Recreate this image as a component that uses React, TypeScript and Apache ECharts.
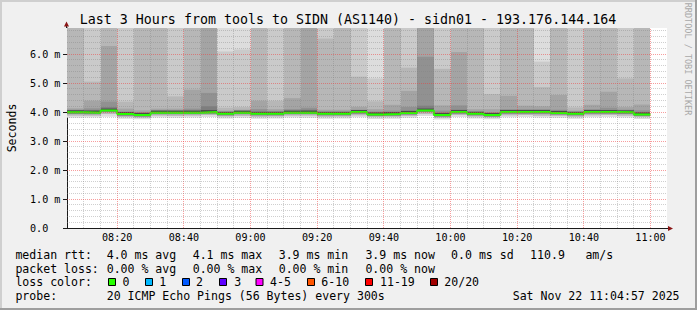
import React, { useEffect, useRef } from 'react';
import * as echarts from 'echarts';

// 5-minute slots (start time of each smoke column)
const slots = [
  '08:05', '08:10', '08:15', '08:20', '08:25', '08:30', '08:35', '08:40', '08:45', '08:50',
  '08:55', '09:00', '09:05', '09:10', '09:15', '09:20', '09:25', '09:30', '09:35', '09:40',
  '09:45', '09:50', '09:55', '10:00', '10:05', '10:10', '10:15', '10:20', '10:25', '10:30',
  '10:35', '10:40', '10:45', '10:50', '10:55',
];
const slotEnd = '11:00';

// median RTT (ms)
const median = [3.99, 3.98, 4.05, 3.93, 3.90, 3.98, 3.98, 3.98, 4.00, 3.94, 3.98, 3.94, 3.94, 3.98, 3.98, 3.94, 3.94, 4.00, 3.92, 3.93, 3.97, 4.05, 3.90, 4.00, 3.94, 3.90, 4.00, 4.00, 4.00, 3.97, 3.94, 4.00, 4.00, 3.99, 3.92];
// smoke: sorted ping values (ms)
const pMin = [3.80, 3.81, 3.84, 3.77, 3.75, 3.81, 3.80, 3.81, 3.83, 3.78, 3.80, 3.77, 3.78, 3.81, 3.80, 3.77, 3.78, 3.82, 3.76, 3.77, 3.80, 3.86, 3.74, 3.83, 3.78, 3.75, 3.82, 3.83, 3.81, 3.80, 3.77, 3.82, 3.83, 3.81, 3.76];
const pLow = [3.88, 3.88, 3.93, 3.83, 3.81, 3.88, 3.87, 3.88, 3.90, 3.85, 3.87, 3.84, 3.85, 3.88, 3.88, 3.84, 3.85, 3.89, 3.83, 3.84, 3.87, 3.93, 3.81, 3.90, 3.85, 3.82, 3.89, 3.90, 3.88, 3.87, 3.84, 3.89, 3.90, 3.88, 3.83];
const p15 = [4.06, 4.06, 4.17, 3.98, 3.96, 4.04, 4.03, 4.05, 4.20, 3.98, 4.01, 4.00, 3.99, 4.04, 4.08, 3.98, 3.98, 4.05, 3.98, 3.99, 4.04, 4.22, 3.97, 4.08, 3.98, 3.95, 4.05, 4.05, 4.06, 4.03, 3.97, 4.05, 4.06, 4.04, 3.98];
const p16 = [4.08, 4.13, 4.36, 4.02, 4.00, 4.06, 4.06, 4.12, 4.66, 4.00, 4.03, 4.10, 4.02, 4.10, 4.15, 4.00, 4.00, 4.08, 4.02, 4.05, 4.18, 5.91, 4.05, 4.23, 4.02, 3.99, 4.10, 4.10, 4.10, 4.08, 4.00, 4.10, 4.15, 4.08, 4.06];
const p17 = [4.13, 4.39, 6.28, 4.12, 4.06, 4.12, 4.12, 4.77, 7.10, 4.05, 4.08, 4.39, 4.10, 4.48, 7.20, 4.08, 4.08, 4.18, 4.10, 4.25, 4.73, 7.10, 4.23, 6.07, 4.10, 4.10, 4.56, 4.22, 4.20, 4.59, 4.05, 4.25, 4.70, 4.17, 4.26];
const p18 = [7.20, 5.05, 7.20, 4.36, 7.00, 7.10, 4.54, 7.10, 7.60, 4.15, 4.17, 7.00, 4.39, 7.05, 7.80, 6.54, 7.00, 5.22, 4.37, 7.00, 5.53, 7.70, 5.49, 7.10, 7.00, 4.62, 7.00, 7.00, 4.86, 7.00, 4.16, 7.00, 7.10, 5.16, 7.00];
const p19 = [7.80, 7.30, 7.90, 7.10, 7.50, 7.60, 7.20, 7.70, 8.20, 6.09, 6.16, 7.50, 7.10, 7.60, 8.60, 7.20, 7.60, 7.05, 5.16, 7.40, 7.10, 8.50, 7.20, 7.80, 7.40, 7.05, 7.50, 7.50, 5.74, 7.40, 7.05, 7.40, 7.60, 7.10, 7.40];
const pMax = [8.50, 8.00, 9.00, 7.60, 8.00, 8.30, 7.80, 8.40, 9.00, 7.40, 7.20, 8.10, 7.70, 8.20, 9.50, 7.90, 8.30, 7.70, 7.30, 8.00, 7.60, 9.20, 7.90, 8.60, 8.00, 7.50, 8.10, 8.20, 7.20, 8.00, 7.60, 8.10, 8.30, 7.70, 8.00];

const xTickLabels = ['08:20', '08:40', '09:00', '09:20', '09:40', '10:00', '10:20', '10:40', '11:00'];
const yTickValues = [0, 1, 2, 3, 4, 5, 6];
const graphStart = '08:04:57';
const graphEnd = '11:04:57';
const yMax = 6.9;

const legendRow1 = ['median rtt:', '4.0 ms avg', '4.1 ms max', '3.9 ms min', '3.9 ms now', '0.0 ms sd', '110.9', 'am/s'];
const legendRow2 = ['packet loss:', '0.00 % avg', '0.00 % max', '0.00 % min', '0.00 % now'];
const lossLabels = ['0', '1', '2', '3', '4-5', '6-10', '11-19', '20/20'];
const lossColors = ['#26ff00', '#00b8ff', '#0059ff', '#5e00ff', '#ff00ff', '#ff5500', '#ff0000', '#a10000'];
const probeText = '20 ICMP Echo Pings (56 Bytes) every 300s';
const dateText = 'Sat Nov 22 11:04:57 2025';
const titleText = 'Last 3 Hours from tools to SIDN (AS1140) - sidn01 - 193.176.144.164';

const toMin = (s: string) => {
  const p = s.split(':').map(Number);
  return p[0] * 60 + p[1] + (p[2] || 0) / 60;
};
const fmtMin = (v: number) => {
  const r = Math.round(v);
  return String(Math.floor(r / 60)).padStart(2, '0') + ':' + String(r % 60).padStart(2, '0');
};

const MONO = '"DejaVu Sans Mono", "Liberation Mono", monospace';
const GRID_L = 67, GRID_T = 28, GRID_W = 600, GRID_H = 200;

export default function App() {
  const ref = useRef<HTMLDivElement>(null);
  useEffect(() => {
    if (!ref.current) return;
    const chart = echarts.init(ref.current, undefined, { renderer: 'svg' });
    const starts = slots.map(toMin);
    const ends = slots.map((s, k) => (k + 1 < slots.length ? toMin(slots[k + 1]) : toMin(slotEnd)));
    const smokeData = starts.map((s, k) => [s, ends[k], pMin[k], pLow[k], p15[k], p16[k], p17[k], p18[k], p19[k], pMax[k], median[k]]);
    const medianData = starts.map((s, k) => [s, median[k]]);
    medianData.push([toMin(slotEnd), median[median.length - 1]]);

    const xMin = toMin(graphStart), xMax = toMin(graphEnd);
    const majorX = xTickLabels.map(toMin);
    // grid line list: [x1,y1,x2,y2,isMajor]
    const gridLines: number[][] = [];
    const allX = starts.concat([toMin(slotEnd)]);
    allX.forEach((x) => {
      if (x <= xMin + 0.5 || x >= xMax) return;
      if (majorX.indexOf(x) >= 0) return;
      gridLines.push([x, 0, x, yMax, 0]);
    });
    majorX.forEach((x) => gridLines.push([x, 0, x, yMax, 1]));
    for (let i = 1; i * 0.2 < yMax; i++) {
      const y = Math.round(i * 0.2 * 10) / 10;
      const major = Math.abs(y - Math.round(y)) < 1e-6;
      gridLines.push([xMin, y, xMax, y, major ? 1 : 0]);
    }

    const clampV = (v: number) => Math.max(0, Math.min(yMax, v));
    const crisp = (v: number) => Math.round(v - 0.5) + 0.5;

    const legendY = [255, 268.5, 282, 295.5];
    const legendX1 = [16, 107.3, 193.3, 279.3, 366, 451.7, 530.7, 586];
    const legendX2 = [16, 107.3, 193.3, 279.3, 366];
    const boxX = [108.5, 145.5, 182.5, 219.5, 256, 307.5, 365.5, 430.5];
    const boxLabelX = [123.3, 160, 196.7, 235, 270.7, 322, 380.7, 445];
    const txt = (text: string, x: number, y: number, size = 11.55, extra: any = {}) => ({
      type: 'text', x, y, silent: true,
      style: { text, fontFamily: MONO, fontSize: size, fill: '#000', align: 'left', verticalAlign: 'middle', ...extra },
    });
    const graphics: any[] = [];
    // border shades
    graphics.push({ type: 'rect', shape: { x: 0, y: 0, width: 697, height: 2 }, style: { fill: '#cfcfcf' }, silent: true });
    graphics.push({ type: 'rect', shape: { x: 0, y: 0, width: 2, height: 310 }, style: { fill: '#cfcfcf' }, silent: true });
    graphics.push({ type: 'rect', shape: { x: 0, y: 308, width: 697, height: 2 }, style: { fill: '#9e9e9e' }, silent: true });
    graphics.push({ type: 'rect', shape: { x: 695, y: 0, width: 2, height: 310 }, style: { fill: '#9e9e9e' }, silent: true });
    // title
    graphics.push(txt(titleText, 348, 19.5, 13.3, { align: 'center' }));
    // y axis name
    graphics.push({ ...txt('Seconds', 11.5, 128, 11.55, { align: 'center' }), rotation: Math.PI / 2 });
    // watermark
    graphics.push({ ...txt('RRDTOOL / TOBI OETIKER', 688, 59, 8.5, { align: 'center', fill: '#a8a8a8' }), rotation: -Math.PI / 2 });
    // arrows
    graphics.push({ type: 'line', shape: { x1: GRID_L - 0.5, y1: GRID_T, x2: GRID_L - 0.5, y2: GRID_T - 3 }, style: { stroke: '#1a1a1a', lineWidth: 1 }, silent: true });
    graphics.push({ type: 'polygon', shape: { points: [[GRID_L - 3, GRID_T - 1.5], [GRID_L + 2, GRID_T - 1.5], [GRID_L - 0.5, GRID_T - 6.5]] }, style: { fill: '#8a1515' }, silent: true });
    graphics.push({ type: 'line', shape: { x1: GRID_L + GRID_W, y1: GRID_T + GRID_H + 0.5, x2: GRID_L + GRID_W + 2, y2: GRID_T + GRID_H + 0.5 }, style: { stroke: '#1a1a1a', lineWidth: 1 }, silent: true });
    graphics.push({ type: 'polygon', shape: { points: [[GRID_L + GRID_W + 1, GRID_T + GRID_H - 2], [GRID_L + GRID_W + 1, GRID_T + GRID_H + 3], [GRID_L + GRID_W + 6, GRID_T + GRID_H + 0.5]] }, style: { fill: '#8a1515' }, silent: true });
    // legend
    legendRow1.forEach((t, i) => graphics.push(txt(t, legendX1[i] - 0.6, legendY[0])));
    legendRow2.forEach((t, i) => graphics.push(txt(t, legendX2[i] - 0.6, legendY[1])));
    graphics.push(txt('loss color:', 15.4, legendY[2]));
    lossLabels.forEach((t, i) => {
      graphics.push({ type: 'rect', shape: { x: boxX[i], y: 278.5, width: 7, height: 7 }, style: { fill: lossColors[i], stroke: '#000', lineWidth: 1 }, silent: true });
      graphics.push(txt(t, boxLabelX[i] - 0.7, legendY[2]));
    });
    graphics.push(txt('probe:', 15.4, legendY[3]));
    graphics.push(txt(probeText, 107.3 - 0.6, legendY[3]));
    graphics.push(txt(dateText, 513.3 - 0.6, legendY[3]));

    const option: any = {
      animation: false,
      backgroundColor: '#f0f0f0',
      grid: {
        left: GRID_L, top: GRID_T, width: GRID_W, height: GRID_H,
        show: true, backgroundColor: '#ffffff', borderWidth: 0, containLabel: false, outerBoundsMode: 'none',
      },
      xAxis: {
        type: 'value', min: xMin, max: xMax,
        axisLine: { show: true, onZero: false, lineStyle: { color: '#1a1a1a', width: 1 } },
        axisTick: { show: false },
        splitLine: { show: false },
        axisLabel: {
          customValues: majorX, formatter: (v: number) => fmtMin(v),
          fontFamily: MONO, fontSize: 10.1, color: '#000', margin: 4,
        },
      },
      yAxis: {
        type: 'value', min: 0, max: yMax,
        axisLine: { show: true, onZero: false, lineStyle: { color: '#1a1a1a', width: 1 } },
        axisTick: { show: true, customValues: yTickValues, length: 4, lineStyle: { color: '#1a1a1a' } },
        splitLine: { show: false },
        axisLabel: {
          customValues: yTickValues,
          formatter: (v: number) => (v === 0 ? '0.0' : v.toFixed(1) + ' m'),
          fontFamily: MONO, fontSize: 10.1, color: '#000', align: 'left', margin: 37,
        },
      },
      series: [
        {
          type: 'custom', z: 2, silent: true,
          data: smokeData,
          renderItem: (params: any, api: any) => {
            const x0 = api.value(0), x1 = api.value(1);
            const lo1 = api.value(2), lo2 = api.value(3);
            const q15 = api.value(4), q16 = api.value(5), q17 = api.value(6), q18 = api.value(7), q19 = api.value(8), qMax = api.value(9);
            const med = api.value(10);
            const medLow = med - 0.05;
            const bands: [number, number, string][] = [
              [lo1, qMax, '#dddddd'],
              [lo2, q19, '#cacaca'],
              [lo2, q18, '#b7b7b7'],
              [medLow, q17, '#a4a4a4'],
              [medLow, q16, '#919191'],
              [medLow, q15, '#7e7e7e'],
              [med, med + 0.07, '#4a4a4a'],
            ];
            const children = bands.map(([lo, hi, c]) => {
              const a = api.coord([x0, clampV(hi)]);
              const b = api.coord([x1, clampV(lo)]);
              const xa = Math.round(a[0]), xb = Math.round(b[0]);
              return { type: 'rect', shape: { x: xa, y: a[1], width: xb - xa, height: b[1] - a[1] }, style: { fill: c } };
            });
            return { type: 'group', children };
          },
        },
        {
          type: 'line', z: 3, silent: true, step: 'end', symbol: 'none',
          data: medianData,
          lineStyle: { color: lossColors[0], width: 2 },
        },
        {
          type: 'custom', z: 5, silent: true,
          data: gridLines,
          renderItem: (params: any, api: any) => {
            const p1 = api.coord([api.value(0), api.value(1)]);
            const p2 = api.coord([api.value(2), api.value(3)]);
            const major = api.value(4) === 1;
            const vertical = api.value(0) === api.value(2);
            const shape = vertical
              ? { x1: crisp(p1[0]), y1: p1[1], x2: crisp(p1[0]), y2: p2[1] }
              : { x1: p1[0], y1: crisp(p1[1]), x2: p2[0], y2: crisp(p1[1]) };
            return {
              type: 'line', shape,
              style: { stroke: major ? 'rgba(240,60,60,0.5)' : 'rgba(130,130,130,0.38)', lineWidth: 1, lineDash: [1, 1] },
            };
          },
        },
      ],
      graphic: graphics,
    };
    chart.setOption(option);
    return () => chart.dispose();
  }, []);
  return <div ref={ref} style={{ position: 'absolute', left: 0, top: 0, width: 697, height: 310 }} />;
}
